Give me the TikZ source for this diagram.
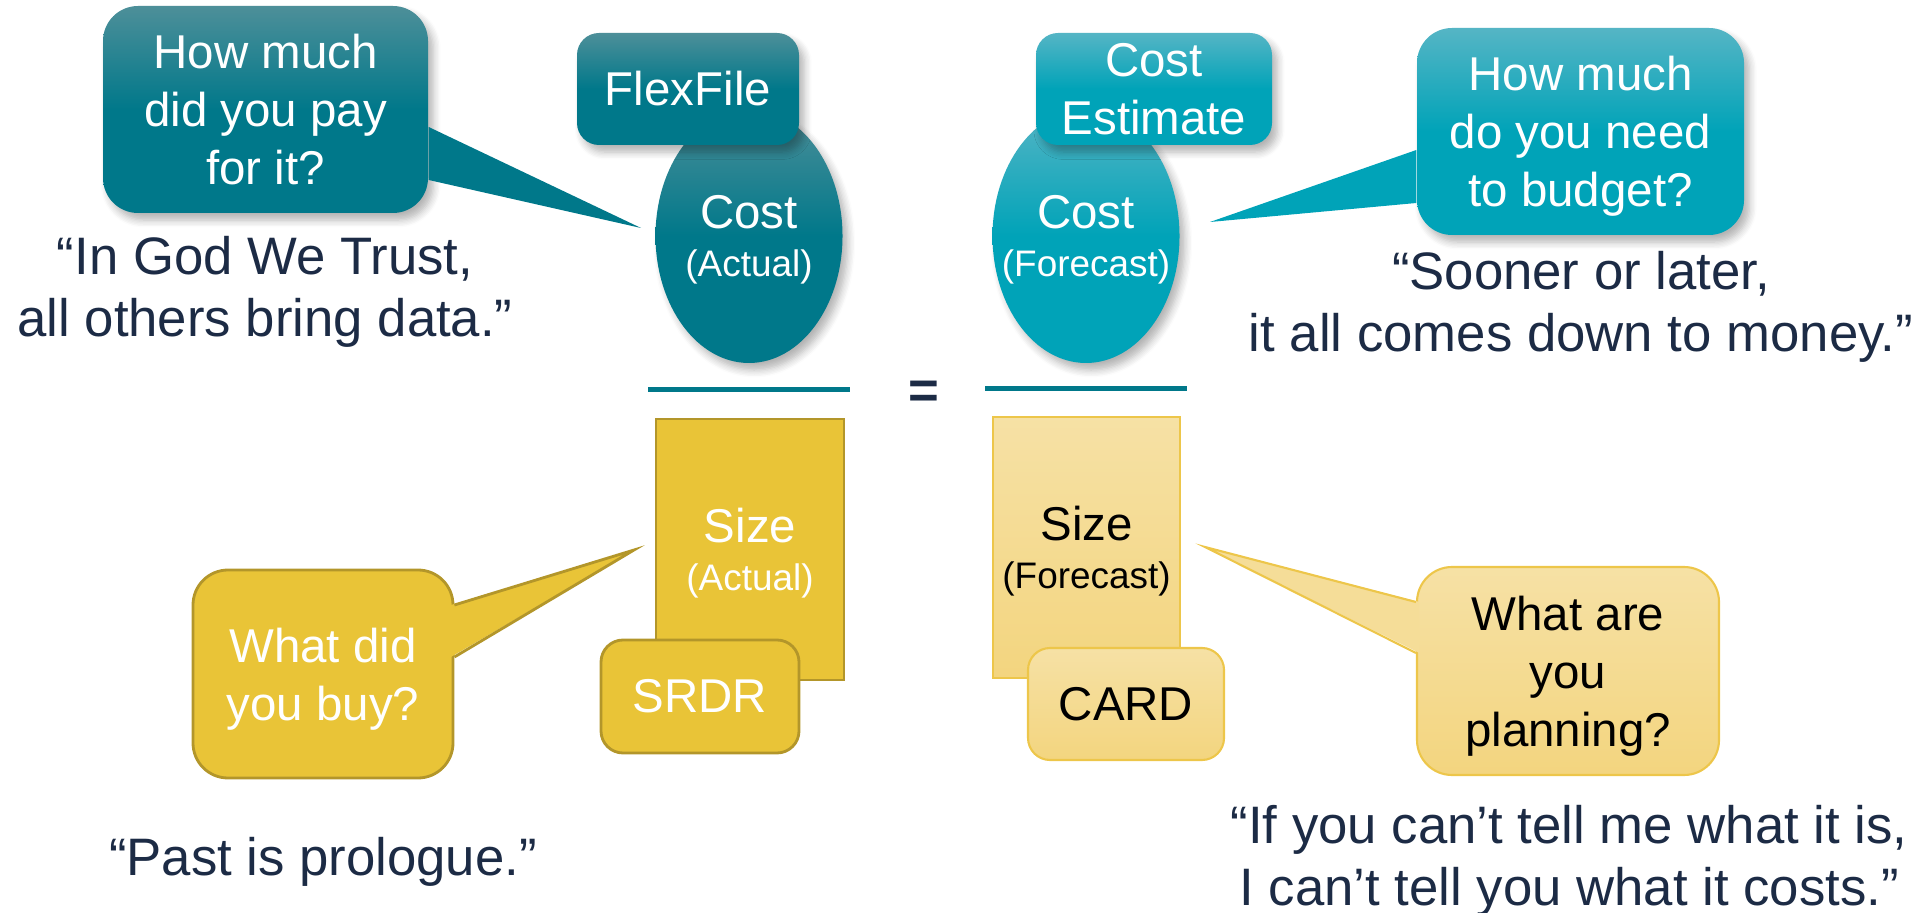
\documentclass[tikz,border=0pt]{standalone}
\usepackage{fontspec}
\setmainfont{Liberation Sans}
\usetikzlibrary{shapes.geometric,shadows.blur}

\definecolor{tealdark}{HTML}{00788A}
\definecolor{tealdarktop}{HTML}{4D8F99}
\definecolor{teallight}{HTML}{00A3B8}
\definecolor{teallighttop}{HTML}{55B5C5}
\definecolor{golddark}{HTML}{E9C437}
\definecolor{goldedge}{HTML}{B3962A}
\definecolor{goldlight}{HTML}{F3D57F}
\definecolor{goldlighttop}{HTML}{F6E1A5}
\definecolor{goldlightedge}{HTML}{EDC64A}
\definecolor{navy}{HTML}{1C2B45}

\tikzset{
    bigtext/.style={font=\fontsize{13.5}{16.5}\selectfont},
    darkteal/.style={top color=tealdarktop, bottom color=tealdark, middle color=tealdark, text=white},
    lightteal/.style={top color=teallighttop, bottom color=teallight, middle color=teallight, text=white},
    softshadow/.style={blur shadow={shadow xshift=1.5pt, shadow yshift=-2pt, shadow blur steps=6, shadow opacity=30}},
    darkgold/.style={fill=golddark, draw=goldedge, line width=0.8pt, text=white},
    lightgold/.style={top color=goldlighttop, bottom color=goldlight, draw=goldlightedge, line width=0.6pt, text=black},
    bubble/.style={bigtext, rounded corners=0.35cm, align=center, inner sep=0pt, text depth=0pt},
    filetag/.style={bigtext, rounded corners=0.22cm, align=center, inner sep=0pt},
    blob/.style={bigtext, align=center, inner sep=0pt, minimum width=1.87cm, text depth=0pt},
    costblob/.style={blob, ellipse, inner xsep=-2.5mm, minimum height=2.54cm},
    saying/.style={font=\fontsize{15}{17.5}\selectfont, text=navy, align=center},
    fractionbar/.style={tealdark, line width=1.4pt}
}

\begin{document}
\begin{tikzpicture}
    \useasboundingbox (0,0) rectangle (19.32,-9.13);

    % Cost (actual) with FlexFile
    \node[costblob, darkteal, softshadow] (costAct) at (7.49,-2.36)
        {Cost\\[-3pt]\fontsize{10.5}{12}\selectfont(Actual)};
    \node[filetag, darkteal, softshadow, minimum width=2.22cm, minimum height=1.12cm] (flexFile) at (6.88,-0.89) {FlexFile};

    % Cost (forecast) with estimate
    \node[costblob, lightteal, softshadow] (costFc) at (10.86,-2.36)
        {Cost\\[-3pt]\fontsize{10.5}{12}\selectfont(Forecast)};
    \node[filetag, lightteal, softshadow, minimum width=2.36cm, minimum height=1.12cm] (costEst) at (11.54,-0.89) {Cost\\Estimate};

    % Fraction bars
    \draw[fractionbar] ([shift={(-1.01,-0.26)}]costAct.south) -- ([shift={(1.01,-0.26)}]costAct.south);
    \draw[fractionbar] ([shift={(-1.01,-0.25)}]costFc.south) -- ([shift={(1.01,-0.25)}]costFc.south);
    \node[font=\fontsize{15}{18}\selectfont\bfseries, text=navy] (equals) at (9.24,-3.95) {=};

    % Size (actual) with SRDR
    \node[blob, darkgold, minimum width=1.88cm, minimum height=2.61cm] (sizeAct) at (7.50,-5.495)
        {Size\\[-3pt]\fontsize{10.5}{12}\selectfont(Actual)};
    \node[filetag, darkgold, minimum width=1.98cm, minimum height=1.13cm] (srdr) at (7.00,-6.965) {SRDR};

    % Size (forecast) with CARD
    \node[blob, lightgold, minimum width=1.87cm, minimum height=2.61cm] (sizeFc) at (10.865,-5.475)
        {Size\\[-3pt]\fontsize{10.5}{12}\selectfont(Forecast)};
    \node[filetag, lightgold, minimum width=1.96cm, minimum height=1.12cm] (card) at (11.26,-7.04) {CARD};

    % Callouts, top
    \node[bubble, darkteal, softshadow, minimum width=3.25cm, minimum height=2.07cm, text depth=-2.8pt] (payBox) at (2.655,-1.095)
        {How much\\did you pay\\for it?};
    \coordinate (payTip) at (6.41,-2.28);
    \fill[tealdark] ([yshift=-1.75mm]payBox.east) -- (payTip) -- ([yshift=-7.05mm]payBox.east) -- cycle;

    \node[bubble, lightteal, softshadow, minimum width=3.27cm, minimum height=2.07cm] (budgetBox) at (15.805,-1.315)
        {How much\\do you need\\to budget?};
    \coordinate (budgetTip) at (12.10,-2.22);
    \fill[teallight] ([yshift=-1.85mm]budgetBox.west) -- (budgetTip) -- ([yshift=-7.15mm]budgetBox.west) -- cycle;

    % Callouts, bottom
    \node[bubble, darkgold, minimum width=2.60cm, minimum height=2.08cm] (buyBox) at (3.23,-6.74)
        {What did\\you buy?};
    \coordinate (buyTip) at (6.34,-5.50);
    \fill[golddark] ([xshift=-1pt,yshift=6.9mm]buyBox.east) -- (buyTip) -- ([xshift=-1pt,yshift=1.7mm]buyBox.east) -- cycle;
    \draw[goldedge, line width=0.8pt] ([yshift=6.9mm]buyBox.east) -- (buyTip) -- ([yshift=1.7mm]buyBox.east);

    \node[bubble, lightgold, minimum width=3.02cm, minimum height=2.08cm] (planBox) at (15.68,-6.71)
        {What are\\you\\planning?};
    \coordinate (planTip) at (12.05,-5.47);
    \fill[goldlighttop!65!goldlight] ([xshift=1pt,yshift=6.9mm]planBox.west) -- (planTip) -- ([xshift=1pt,yshift=1.8mm]planBox.west) -- cycle;
    \draw[goldlightedge, line width=0.6pt] ([yshift=6.9mm]planBox.west) -- (planTip) -- ([yshift=1.8mm]planBox.west);

    % Quotes
    \node[saying] (godQuote) at (2.65,-2.92) {“In God We Trust,\\all others bring data.”};
    \node[saying] (moneyQuote) at (15.81,-3.07) {“Sooner or later,\\it all comes down to money.”};
    \node[saying] (pastQuote) at (3.23,-8.62) {“Past is prologue.”};
    \node[saying] (tellQuote) at (15.69,-8.61) {“If you can’t tell me what it is,\\I can’t tell you what it costs.”};
\end{tikzpicture}
\end{document}
